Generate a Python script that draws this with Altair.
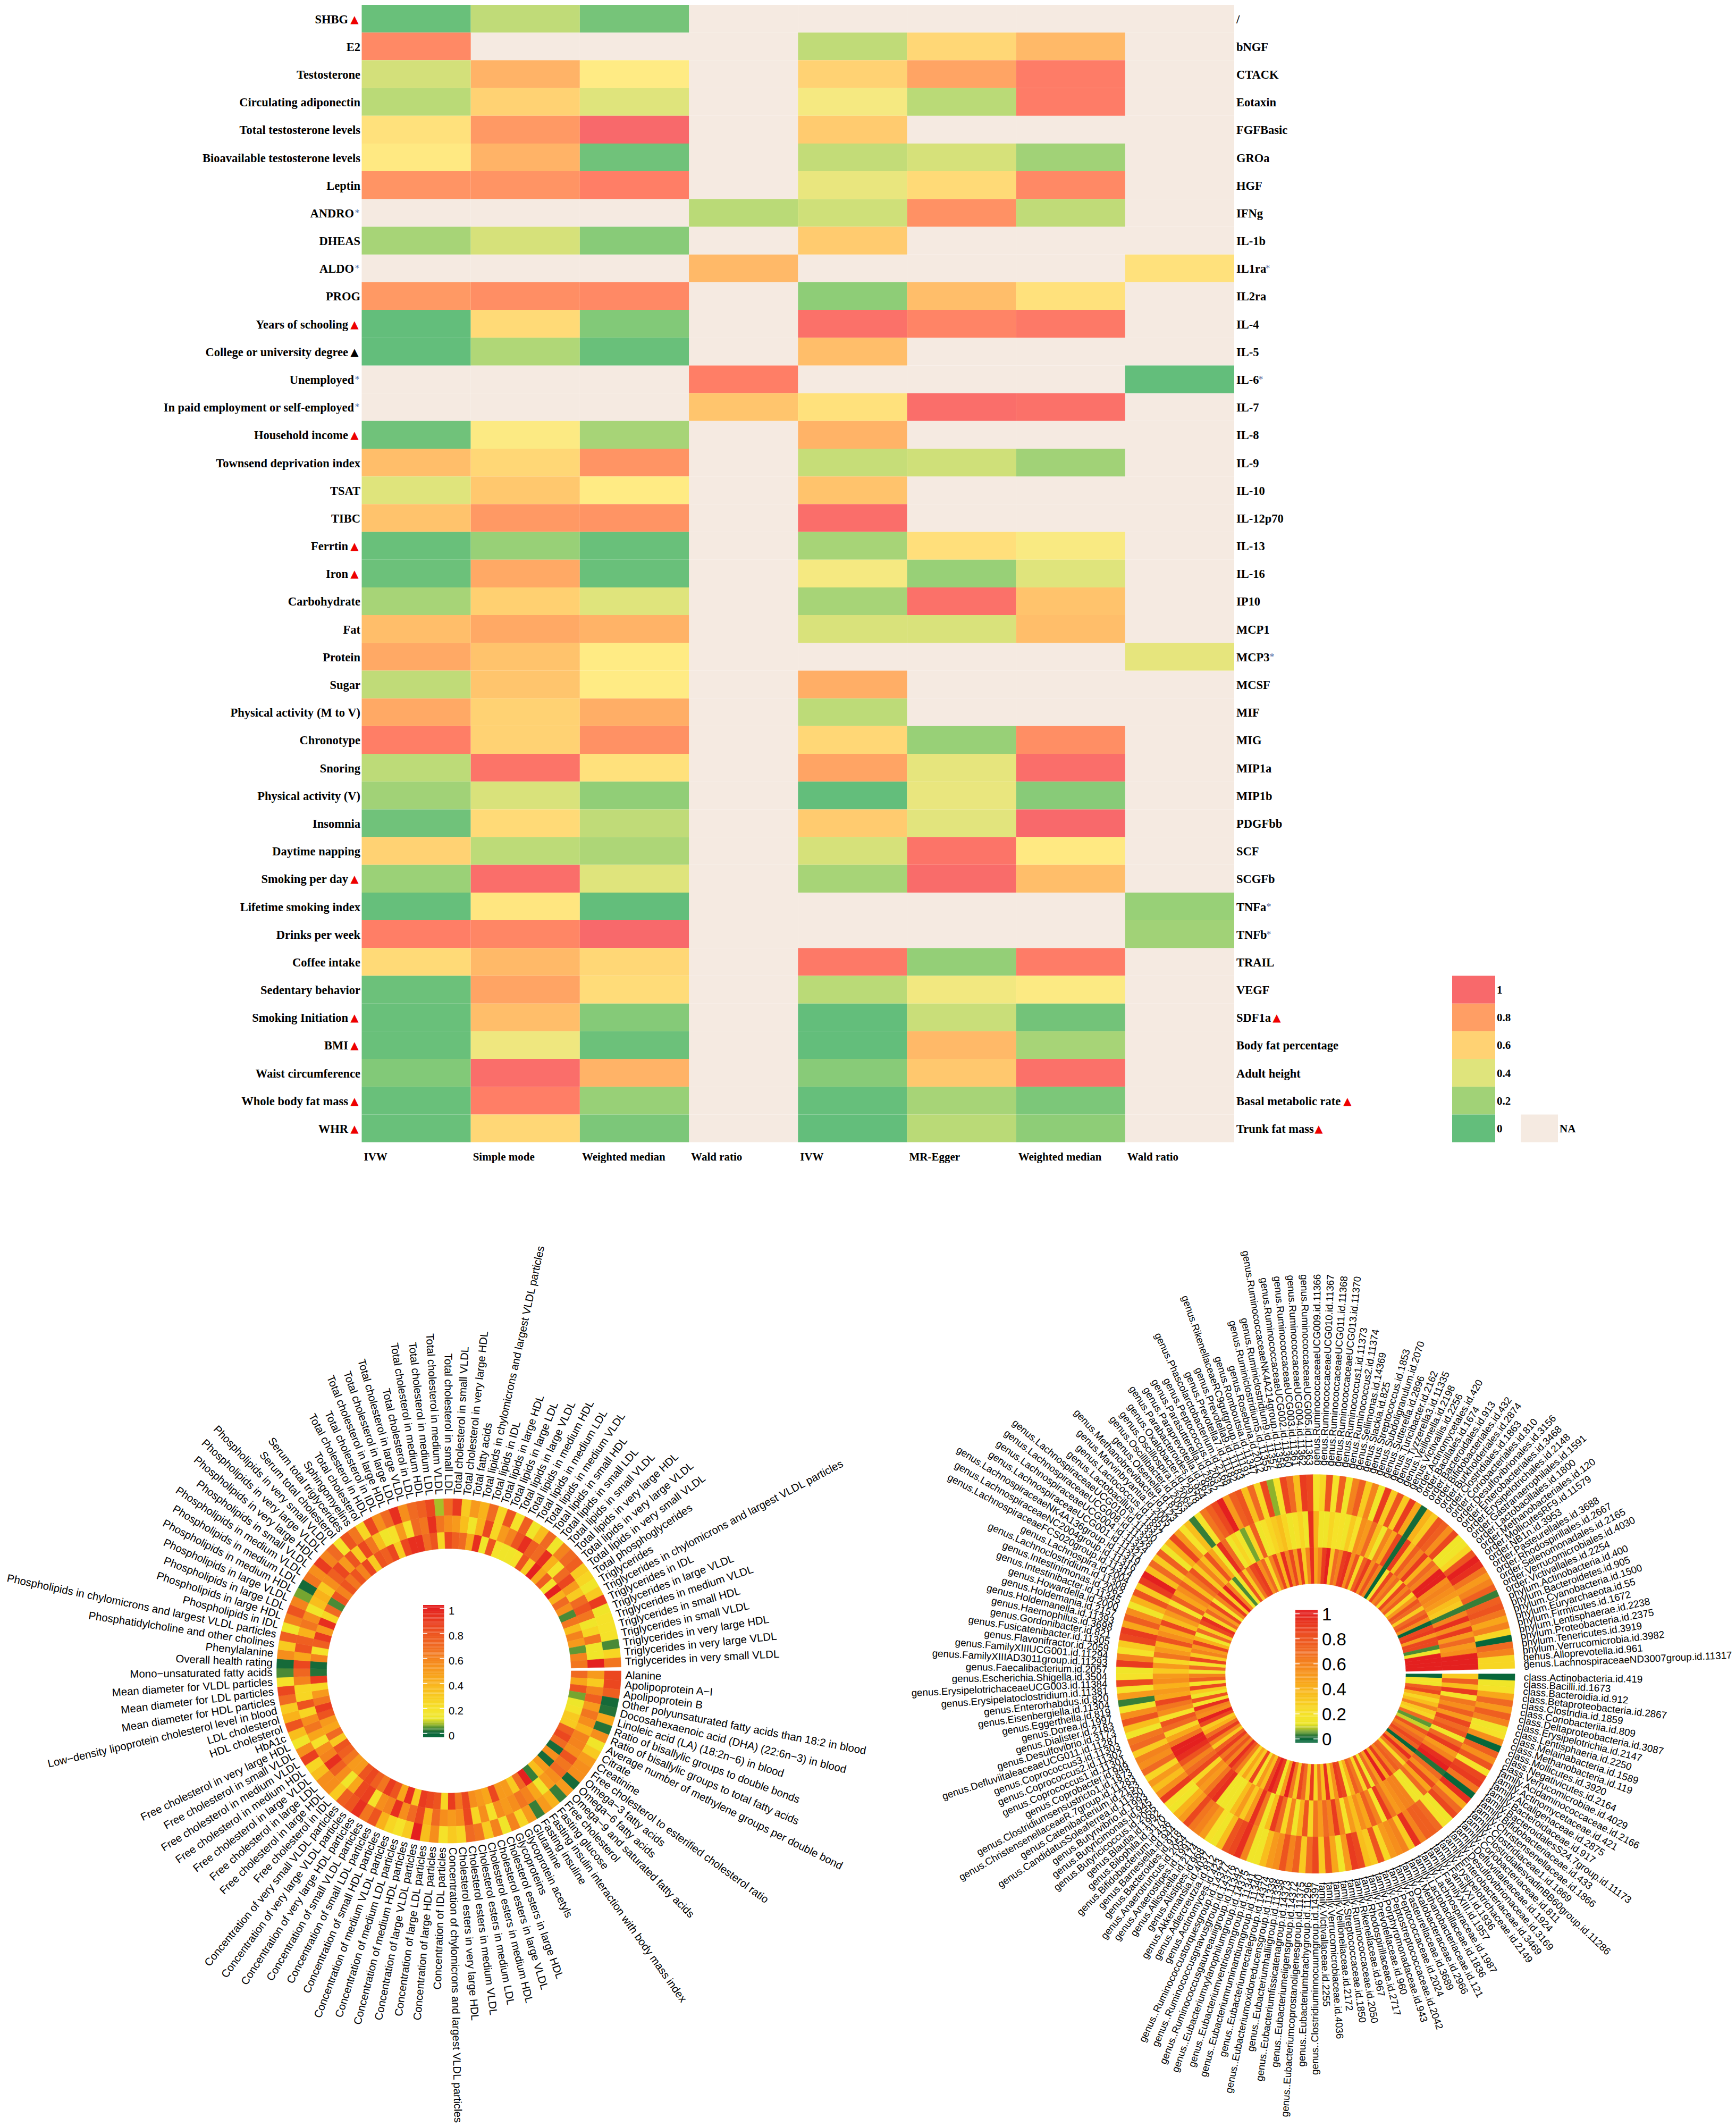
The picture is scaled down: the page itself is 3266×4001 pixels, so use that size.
import numpy as np
import pandas as pd
import altair as alt

N = None
EXPOSURES = ["SHBG","E2","Testosterone","Circulating adiponectin","Total testosterone levels","Bioavailable testosterone levels","Leptin","ANDRO","DHEAS","ALDO","PROG","Years of schooling","College or university degree","Unemployed","In paid employment or self-employed","Household income","Townsend deprivation index","TSAT","TIBC","Ferrtin","Iron","Carbohydrate","Fat","Protein","Sugar","Physical activity (M to V)","Chronotype","Snoring","Physical activity (V)","Insomnia","Daytime napping","Smoking per day","Lifetime smoking index","Drinks per week","Coffee intake","Sedentary behavior","Smoking Initiation","BMI","Waist circumference","Whole body fat mass","WHR"]
OUTCOMES = ["/","bNGF","CTACK","Eotaxin","FGFBasic","GROa","HGF","IFNg","IL-1b","IL1ra","IL2ra","IL-4","IL-5","IL-6","IL-7","IL-8","IL-9","IL-10","IL-12p70","IL-13","IL-16","IP10","MCP1","MCP3","MCSF","MIF","MIG","MIP1a","MIP1b","PDGFbb","SCF","SCGFb","TNFa","TNFb","TRAIL","VEGF","SDF1a","Body fat percentage","Adult height","Basal metabolic rate","Trunk fat mass"]
METHODS = ["IVW","Simple mode","Weighted median","Wald ratio","IVW","MR-Egger","Weighted median","Wald ratio"]
RED_TRI_LEFT = ["SHBG","Years of schooling","Household income","Ferrtin","Iron","Smoking per day","Smoking Initiation","BMI","Whole body fat mass","WHR"]
BLACK_TRI_LEFT = ["College or university degree"]
STAR_LEFT = ["ANDRO","ALDO","Unemployed","In paid employment or self-employed"]

C0 = [.02,.88,.36,.28,.54,.51,.84,N,.22,N,.82,0,0,N,N,.04,.68,.4,.66,.02,.03,.22,.68,.76,.3,.76,.92,.29,.2,.04,.6,.18,.01,.92,.57,.03,.02,.02,.1,.02,.02]
C1 = [.3,N,.72,.6,.82,.72,.84,N,.37,N,.86,.57,.25,N,N,.49,.58,.64,.82,.17,.76,.61,.76,.66,.65,.6,.6,.96,.38,.57,.29,.98,.52,.89,.7,.78,.68,.45,.98,.92,.58]
C2 = [.06,N,.5,.4,1,.04,.92,N,.12,N,.88,.1,.02,N,N,.22,.84,.5,.84,.02,.02,.4,.72,.5,.5,.74,.85,.54,.15,.3,.24,.4,0,1,.58,.56,.11,.03,.72,.17,.08]
C3 = [N,N,N,N,N,N,N,.28,N,.7,N,N,N,.92,.65,N,N,N,N,N,N,N,N,N,N,N,N,N,N,N,N,N,N,N,N,N,N,N,N,N,N]
C4 = [N,.3,.6,.47,.63,.31,.43,.35,.63,N,.14,.97,.68,N,.54,.72,.32,.66,.98,.22,.47,.22,.38,N,.74,.29,.58,.78,0,.63,.37,.22,N,N,.94,.28,0,0,.12,.01,0]
C5 = [N,.58,.78,.28,N,.37,.57,.85,N,N,.68,.9,N,N,.98,N,.35,N,N,.55,.17,.97,.38,N,N,N,.17,.42,.43,.41,.96,.99,N,N,.16,.46,.33,.7,.64,.22,.28]
C6 = [N,.7,.93,.93,N,.2,.88,.3,N,N,.54,.94,N,N,.97,N,.2,N,N,.48,.4,.66,.68,N,N,N,.86,.98,.12,1,.51,.68,N,N,.93,.49,.05,.22,.97,.08,.14]
C7 = [N,N,N,N,N,N,N,N,N,.54,N,N,N,0,N,N,N,N,N,N,N,N,N,.42,N,N,N,N,N,N,N,N,.17,.2,N,N,N,N,N,N,N]

METAB = ["Alanine","Apolipoprotein A\u2212I","Apolipoprotein B","Other polyunsaturated fatty acids than 18:2 in blood","Docosahexaenoic acid (DHA) (22:6n\u22123) in blood","Linoleic acid (LA) (18:2n\u22126) in blood","Ratio of bisallylic groups to double bonds","Ratio of bisallylic groups to total fatty acids","Average number of methylene groups per double bond","Citrate","Creatinine","Free cholesterol to esterified cholesterol ratio","Omega\u22123 fatty acids","Omega\u22126 fatty acids","Omega\u22129 and saturated fatty acids","Free cholesterol","Fasting glucose","Fasting insulin interaction with body mass index","Fasting insuline","Glutamine","Glycoprotein acetyls","Glycoproteins","Cholesterol esters in large HDL","Cholesterol esters in large VLDL","Cholesterol esters in medium HDL","Cholesterol esters in medium LDL","Cholesterol esters in medium VLDL","Cholesterol esters in very large HDL","Concentration of chylomicrons and largest VLDL particles","Concentration of IDL particles","Concentration of large HDL particles","Concentration of large LDL particles","Concentration of large VLDL particles","Concentration of medium HDL particles","Concentration of medium LDL particles","Concentration of medium VLDL particles","Concentration of small HDL particles","Concentration of small LDL particles","Concentration of small VLDL particles","Concentration of very large HDL particles","Concentration of very large VLDL particles","Concentration of very small VLDL particles","Free cholesterol in IDL","Free cholesterol in large HDL","Free cholesterol in large LDL","Free cholesterol in large VLDL","Free cholesterol in medium HDL","Free cholesterol in medium VLDL","Free cholesterol in small VLDL","Free cholesterol in very large HDL","HbA1c","HDL cholesterol","LDL cholesterol","Low\u2212density lipoprotein cholesterol level in blood","Mean diameter for HDL particles","Mean diameter for LDL particles","Mean diameter for VLDL particles","Mono\u2212unsaturated fatty acids","Overall health rating","Phenylalanine","Phosphatidylcholine and other cholines","Phospholipids in chylomicrons and largest VLDL particles","Phospholipids in IDL","Phospholipids in large HDL","Phospholipids in large LDL","Phospholipids in large VLDL","Phospholipids in medium HDL","Phospholipids in medium LDL","Phospholipids in medium VLDL","Phospholipids in small VLDL","Phospholipids in very large HDL","Phospholipids in very large VLDL","Phospholipids in very small VLDL","Serum total cholesterol","Serum total triglycerides","Sphingomyelins","Total cholesterol","Total cholesterol in HDL","Total cholesterol in IDL","Total cholesterol in large HDL","Total cholesterol in large LDL","Total cholesterol in large VLDL","Total cholesterol in LDL","Total cholesterol in medium HDL","Total cholesterol in medium LDL","Total cholesterol in medium VLDL","Total cholesterol in small LDL","Total cholesterol in small VLDL","Total cholesterol in very large HDL","Total fatty acids","Total lipids in chylomicrons and largest VLDL particles","Total lipids in IDL","Total lipids in large HDL","Total lipids in large LDL","Total lipids in large VLDL","Total lipids in medium HDL","Total lipids in medium LDL","Total lipids in medium VLDL","Total lipids in small HDL","Total lipids in small LDL","Total lipids in small VLDL","Total lipids in very large HDL","Total lipids in very large VLDL","Total lipids in very small VLDL","Total phosphoglycerides","Triglycerides","Triglycerides in chylomicrons and largest VLDL particles","Triglycerides in IDL","Triglycerides in large VLDL","Triglycerides in medium VLDL","Triglycerides in small HDL","Triglycerides in small VLDL","Triglycerides in very large HDL","Triglycerides in very large VLDL","Triglycerides in very small VLDL"]

M_OUT = [85,85,75,1,2,45,2,55,15,30,
50,55,55,1,50,3,40,50,3,50,
25,60,15,60,30,65,70,25,30,20,
55,35,100,30,20,25,40,80,65,95,
80,75,30,55,55,35,25,88,55,15,
35,80,40,30,70,85,20,4,1,55,
30,75,15,60,80,60,6,1,65,55,
90,60,70,20,80,65,25,85,55,70,
95,55,70,75,85,8,70,90,30,50,
40,70,25,80,20,75,15,35,70,15,
60,70,75,30,25,15,30,90,15,20,
20,20,4,25,65]
M_MID = [50,30,60,75,50,65,55,40,60,60,
55,80,65,70,55,50,15,45,60,65,
55,50,55,20,55,25,85,55,50,55,
70,40,85,70,55,95,60,55,20,88,
85,45,15,55,75,95,60,55,20,45,
65,55,25,80,25,25,60,72,85,45,
80,75,40,65,55,15,35,40,30,55,
75,85,50,80,30,85,65,35,15,20,
50,20,70,65,95,65,55,50,35,15,
40,85,25,50,60,80,95,75,70,95,
40,20,70,85,50,30,70,80,65,15,
25,65,15,15,100]
M_INN = [70,45,80,6,12,18,30,30,75,85,
70,1,55,1,50,35,3,100,70,30,
50,50,85,45,50,55,85,65,90,25,
80,85,90,30,95,45,80,90,65,75,
85,80,50,50,65,75,80,30,70,45,
50,80,90,65,50,25,90,2,1,60,
20,75,90,50,95,25,70,4,80,60,
80,65,80,60,85,30,80,75,85,30,
85,95,95,70,80,25,85,75,70,45,
95,15,80,20,15,15,20,80,30,100,
45,75,20,100,40,70,55,4,65,35,
60,50,5,60,65]

CLASSES = ["class.Actinobacteria.id.419","class.Bacilli.id.1673","class.Bacteroidia.id.912","class.Betaproteobacteria.id.2867","class.Clostridia.id.1859","class.Coriobacteriia.id.809","class.Deltaproteobacteria.id.3087","class.Erysipelotrichia.id.2147","class.Lentisphaeria.id.2250","class.Melainabacteria.id.1589","class.Methanobacteria.id.119","class.Mollicutes.id.3920","class.Negativicutes.id.2164","class.Verrucomicrobiae.id.4029"]
FAMILIES = ["family.Acidaminococcaceae.id.2166","family.Actinomycetaceae.id.421","family.Alcaligenaceae.id.2875","family.Bacteroidaceae.id.917","family.BacteroidalesS24.7group.id.11173","family.Bifidobacteriaceae.id.433","family.Christensenellaceae.id.1866","family.Clostridiaceae1.id.1869","family.ClostridialesvadinBB60group.id.11286","family.Coriobacteriaceae.id.811","family.Defluviitaleaceae.id.1924","family.Desulfovibrionaceae.id.3169","family.Enterobacteriaceae.id.3469","family.Erysipelotrichaceae.id.2149","family.FamilyXI.id.1936","family.FamilyXIII.id.1957","family.Lachnospiraceae.id.1987","family.Lactobacillaceae.id.1836","family.Methanobacteriaceae.id.121","family.Oxalobacteraceae.id.2966","family.Pasteurellaceae.id.3689","family.Peptococcaceae.id.2024","family.Peptostreptococcaceae.id.2042","family.Porphyromonadaceae.id.943","family.Prevotellaceae.id.960","family.Rhodospirillaceae.id.2717","family.Rikenellaceae.id.967","family.Ruminococcaceae.id.2050","family.Streptococcaceae.id.1850","family.Veillonellaceae.id.2172","family.Verrucomicrobiaceae.id.4036","family.Victivallaceae.id.2255"]
GROUP_GENERA = ["genus..Clostridiuminnocuumgroup.id.14397","genus..Eubacteriumbrachygroup.id.11296","genus..Eubacteriumcoprostanoligenesgroup.id.11375","genus..Eubacteriumeligensgroup.id.14372","genus..Eubacteriumfissicatenagroup.id.14373","genus..Eubacteriumhalliigroup.id.11338","genus..Eubacteriumoxidoreducensgroup.id.11339","genus..Eubacteriumrectalegroup.id.14374","genus..Eubacteriumruminantiumgroup.id.11340","genus..Eubacteriumventriosumgroup.id.11341","genus..Eubacteriumxylanophilumgroup.id.14375","genus..Ruminococcusgauvreauiigroup.id.11342","genus..Ruminococcusgnavusgroup.id.14376","genus..Ruminococcustorquesgroup.id.14377"]
GENERA = ["genus.Actinomyces.id.423","genus.Adlercreutzia.id.812","genus.Akkermansia.id.4037","genus.Alistipes.id.968","genus.Allisonella.id.2174","genus.Anaerostipes.id.1991","genus.Anaerotruncus.id.2054","genus.Bacteroides.id.918","genus.Barnesiella.id.944","genus.Bifidobacterium.id.436","genus.Bilophila.id.3170","genus.Blautia.id.1992","genus.Butyricicoccus.id.2055","genus.Butyricimonas.id.945","genus.Butyrivibrio.id.1993","genus.CandidatusSoleaferrea.id.11350","genus.Catenibacterium.id.2153","genus.ChristensenellaceaeR.7group.id.11283","genus.Clostridiumsensustricto1.id.1873","genus.Coprobacter.id.949","genus.Coprococcus1.id.11301","genus.Coprococcus2.id.11302","genus.Coprococcus3.id.11303","genus.DefluviitaleaceaeUCG011.id.11287","genus.Desulfovibrio.id.3173","genus.Dialister.id.2183","genus.Dorea.id.1997","genus.Eggerthella.id.819","genus.Eisenbergiella.id.11304","genus.Enterorhabdus.id.820","genus.Erysipelatoclostridium.id.11381","genus.ErysipelotrichaceaeUCG003.id.11384","genus.Escherichia.Shigella.id.3504","genus.Faecalibacterium.id.2057","genus.FamilyXIIIAD3011group.id.11293","genus.FamilyXIIIUCG001.id.11294","genus.Flavonifractor.id.2059","genus.Fusicatenibacter.id.11305","genus.Gordonibacter.id.821","genus.Haemophilus.id.3698","genus.Holdemanella.id.11393","genus.Holdemania.id.2157","genus.Howardella.id.2000","genus.Intestinibacter.id.11345","genus.Intestinimonas.id.2062","genus.Lachnoclostridium.id.11308","genus.Lachnospira.id.2004","genus.LachnospiraceaeFCS020group.id.11314","genus.LachnospiraceaeNC2004group.id.11316","genus.LachnospiraceaeNK4A136group.id.11319","genus.LachnospiraceaeUCG001.id.11321","genus.LachnospiraceaeUCG004.id.11324","genus.LachnospiraceaeUCG008.id.11328","genus.LachnospiraceaeUCG010.id.11330","genus.Lactobacillus.id.1837","genus.Lactococcus.id.1851","genus.Marvinbryantia.id.2005","genus.Methanobrevibacter.id.123","genus.Olsenella.id.822","genus.Oscillibacter.id.2063","genus.Oscillospira.id.2064","genus.Oxalobacter.id.2978","genus.Parabacteroides.id.954","genus.Paraprevotella.id.962","genus.Parasutterella.id.2892","genus.Peptococcus.id.2037","genus.Phascolarctobacterium.id.2168","genus.Prevotella7.id.11182","genus.Prevotella9.id.11183","genus.RikenellaceaeRC9gutgroup.id.11191","genus.Romboutsia.id.11347","genus.Roseburia.id.2012","genus.Ruminiclostridium5.id.11355","genus.Ruminiclostridium9.id.11357","genus.RuminococcaceaeNK4A214group.id.11358","genus.RuminococcaceaeUCG002.id.11360","genus.RuminococcaceaeUCG003.id.11361","genus.RuminococcaceaeUCG004.id.11362","genus.RuminococcaceaeUCG005.id.11363","genus.RuminococcaceaeUCG009.id.11366","genus.RuminococcaceaeUCG010.id.11367","genus.RuminococcaceaeUCG011.id.11368","genus.RuminococcaceaeUCG013.id.11370","genus.Ruminococcus1.id.11373","genus.Ruminococcus2.id.11374","genus.Sellimonas.id.14369","genus.Slackia.id.825","genus.Streptococcus.id.1853","genus.Subdoligranulum.id.2070","genus.Sutterella.id.2896","genus.Turicibacter.id.2162","genus.Tyzzerella3.id.11335","genus.Veillonella.id.2198","genus.Victivallis.id.2256"]
ORDERS = ["order.Actinomycetales.id.420","order.Bacillales.id.1674","order.Bacteroidales.id.913","order.Bifidobacteriales.id.432","order.Burkholderiales.id.2874","order.Clostridiales.id.1863","order.Coriobacteriales.id.810","order.Desulfovibrionales.id.3156","order.Enterobacteriales.id.3468","order.Erysipelotrichales.id.2148","order.Gastranaerophilales.id.1591","order.Lactobacillales.id.1800","order.Methanobacteriales.id.120","order.MollicutesRF9.id.11579","order.NB1n.id.3953","order.Pasteurellales.id.3688","order.Rhodospirillales.id.2667","order.Selenomonadales.id.2165","order.Verrucomicrobiales.id.4030","order.Victivallales.id.2254"]
PHYLA = ["phylum.Actinobacteria.id.400","phylum.Bacteroidetes.id.905","phylum.Cyanobacteria.id.1500","phylum.Euryarchaeota.id.55","phylum.Firmicutes.id.1672","phylum.Lentisphaerae.id.2238","phylum.Proteobacteria.id.2375","phylum.Tenericutes.id.3919","phylum.Verrucomicrobia.id.3982","genus.Alloprevotella.id.961","genus.LachnospiraceaeND3007group.id.11317"]

G_OUT = [0,15,20,45,70,50,75,60,15,20,
55,0,75,55,80,20,85,90,65,0,
95,45,70,85,15,20,70,75,75,60,
95,30,60,55,50,25,80,30,35,85,
90,50,15,45,80,30,85,70,30,75,
60,80,55,50,35,15,15,60,95,85,
80,35,15,20,50,60,65,85,50,40,
15,20,90,55,35,50,25,70,55,60,
30,70,65,15,35,80,55,15,3,50,
20,85,20,15,90,60,20,30,85,90,
45,75,55,15,40,80,30,90,100,35,
70,30,75,15,40,85,50,20,35,3,
20,65,75,85,100,50,75,80,35,70,
25,85,7,20,85,70,35,90,85,20,
25,80,20,75,15,60,75,30,60,15,
90,30,80,30,90,45,1,40,30,80,
75,55,85,15,15,25,80,100,95,65,
50,60,75,3,75,80,65,45,60,25,
0,70,60,25,25]
G_MID = [30,75,35,90,20,65,55,75,50,85,
70,80,15,70,90,50,60,95,100,2,
70,55,85,45,70,15,15,60,60,55,
50,65,90,20,60,75,45,55,35,50,
20,60,90,60,70,50,65,25,80,40,
15,60,25,70,90,35,15,65,95,50,
30,50,35,15,15,15,95,90,65,50,
55,25,85,70,60,80,95,100,100,65,
45,25,70,80,20,55,65,85,45,50,
40,55,50,30,50,25,65,50,40,80,
55,45,85,35,50,70,20,75,45,55,
75,35,65,80,30,60,35,80,45,15,
95,70,15,25,15,6,25,75,15,20,
25,30,35,25,15,20,25,15,95,40,
15,15,25,20,20,15,30,20,55,50,
70,35,15,60,45,85,1,90,35,75,
60,90,40,70,60,100,100,55,60,55,
50,35,30,3,60,95,55,90,50,70,
50,55,100,100,100]
G_INN = [0,20,15,75,85,40,25,35,60,30,
25,70,5,10,80,60,70,85,75,0,
60,95,65,25,70,75,60,90,45,100,
50,70,15,80,25,65,75,40,20,85,
90,55,30,95,35,65,25,90,30,70,
85,30,65,100,50,15,90,100,85,35,
50,20,85,30,45,25,60,80,95,60,
80,65,90,75,30,60,90,70,40,30,
85,100,55,60,95,20,80,15,30,85,
20,75,60,15,70,20,85,30,60,50,
85,40,15,70,30,85,95,25,70,50,
85,20,60,90,30,100,60,15,4,15,
80,30,65,85,90,55,70,25,60,85,
40,95,60,85,50,90,30,60,95,45,
60,90,100,30,70,60,90,95,55,80,
25,75,90,55,80,60,0,20,85,60,
70,25,85,60,75,25,50,80,70,30,
70,80,55,0,85,90,50,85,85,4,
15,100,100,100,100]
MICRO = CLASSES + FAMILIES + GROUP_GENERA + GENERA + ORDERS + PHYLA
assert len(METAB) == len(M_OUT) == len(M_MID) == len(M_INN), (len(METAB), len(M_OUT), len(M_MID), len(M_INN))
assert len(MICRO) == len(G_OUT) == len(G_MID) == len(G_INN), (len(MICRO), len(G_OUT), len(G_MID), len(G_INN))

# ------- layout (page coordinates minus the 8px margin)
W, H = 3250, 3985
SERIF = "Liberation Serif"
SANS = "Liberation Sans"
HX = [672.5, 2314]
HY = [1, 2140.6]
NA_COLOR = "#F5EAE1"
heat_scale = alt.Scale(domain=[0, .5, 1], range=["#63BE7B", "#FFEB84", "#F8696B"])
ring_scale = alt.Scale(domain=[0, .015, .04, .08, .12, .2, .32, .5, .7, .88, 1],
                       range=["#07673A", "#1C6C38", "#4A8A36", "#A8BE28", "#EDE62A", "#F5E229", "#F8C51F", "#F79A1C", "#F06A22", "#EA3F1F", "#E4201F"],
                       clamp=True)

x_h = alt.Scale(domain=[0, 8], range=HX, nice=False)
y_h = alt.Scale(domain=[0, 41], range=HY, nice=False)

rows = []
for c, col in enumerate([C0, C1, C2, C3, C4, C5, C6, C7]):
    for r, v in enumerate(col):
        rows.append(dict(c0=c, c1=c + 1, r0=r, r1=r + 1, v=v))
heat = pd.DataFrame(rows)
heat_na = heat[heat.v.isna()]
heat_ok = heat[heat.v.notna()].astype({"v": float})

layers = [
    alt.Chart(heat_na).mark_rect(color=NA_COLOR).encode(
        x=alt.X("c0:Q", scale=x_h, axis=None), x2="c1:Q",
        y=alt.Y("r0:Q", scale=y_h, axis=None), y2="r1:Q"),
    alt.Chart(heat_ok).mark_rect().encode(
        x=alt.X("c0:Q", scale=x_h, axis=None), x2="c1:Q",
        y=alt.Y("r0:Q", scale=y_h, axis=None), y2="r1:Q",
        color=alt.Color("v:Q", scale=heat_scale, legend=None)),
]

def row_text(df, xpos, align, size=22.5, color="#000000", font=SERIF, weight="bold", dy=1.5):
    return alt.Chart(df).mark_text(align=align, baseline="middle", font=font, fontWeight=weight,
                                   fontSize=size, color=color, dy=dy).encode(
        x=alt.value(xpos),
        y=alt.Y("ym:Q", scale=y_h, axis=None), text="t:N")

lab = pd.DataFrame(dict(t=EXPOSURES, ym=np.arange(41) + .5))
plain = lab[~lab.t.isin(RED_TRI_LEFT + BLACK_TRI_LEFT + STAR_LEFT)]
tri = lab[lab.t.isin(RED_TRI_LEFT + BLACK_TRI_LEFT)]
star = lab[lab.t.isin(STAR_LEFT)]
mk_tri = tri.assign(t="\u25B2")
layers += [
    row_text(plain, 670, "right"),
    row_text(tri, 647, "right"),
    row_text(star, 658, "right"),
    row_text(mk_tri[tri.t.isin(RED_TRI_LEFT).values], 659, "center", size=20, color="#EE0000", font="DejaVu Sans", weight="normal"),
    row_text(mk_tri[tri.t.isin(BLACK_TRI_LEFT).values], 659, "center", size=20, color="#000000", font="DejaVu Sans", weight="normal"),
    row_text(star.assign(t="*"), 664, "center", size=18, color="#4F6EA8", weight="normal"),
]
rlab = pd.DataFrame(dict(t=OUTCOMES, ym=np.arange(41) + .5))
layers.append(row_text(rlab, 2318, "left"))
# marks that follow a few right-hand labels: label -> x of the mark
RIGHT_TRI = {"SDF1a": 2394, "Basal metabolic rate": 2527, "Trunk fat mass": 2473}
RIGHT_STAR = {"IL1ra": 2377, "IL-6": 2364, "MCP3": 2385, "TNFa": 2379, "TNFb": 2379}
for name, xp in RIGHT_TRI.items():
    d = rlab[rlab.t == name].assign(t="\u25B2")
    layers.append(row_text(d, xp, "center", size=20, color="#EE0000", font="DejaVu Sans", weight="normal"))
for name, xp in RIGHT_STAR.items():
    d = rlab[rlab.t == name].assign(t="*")
    layers.append(row_text(d, xp, "center", size=18, color="#4F6EA8", weight="normal"))

# method labels
meth = pd.DataFrame(dict(t=METHODS, c=np.arange(8)))
layers.append(alt.Chart(meth).mark_text(align="left", baseline="middle", font=SERIF, fontWeight="bold", fontSize=21, dx=4).encode(
    x=alt.X("c:Q", scale=x_h, axis=None), y=alt.value(2169), text="t:N"))

# discrete legend
LEG_VALUES = [1, .8, .6, .4, .2, 0]
leg = pd.DataFrame(dict(v=LEG_VALUES, r0=np.arange(35, 41), r1=np.arange(36, 42), ym=np.arange(35, 41) + .5,
                        t=["1", "0.8", "0.6", "0.4", "0.2", "0"]))
layers.append(alt.Chart(leg).mark_rect().encode(
    x=alt.value(2724), x2=alt.value(2805),
    y=alt.Y("r0:Q", scale=y_h, axis=None), y2="r1:Q",
    color=alt.Color("v:Q", scale=heat_scale, legend=None)))
layers.append(row_text(leg, 2808, "left", size=21))
nabox = pd.DataFrame(dict(r0=[40], r1=[41], ym=[40.5], t=["NA"]))
layers.append(alt.Chart(nabox).mark_rect(color=NA_COLOR).encode(
    x=alt.value(2853), x2=alt.value(2923),
    y=alt.Y("r0:Q", scale=y_h, axis=None), y2="r1:Q"))
layers.append(row_text(nabox, 2926, "left", size=21))


def ring(names, outer, mid, inner, cx, cy, rin, rout, span_deg, label_r, font_size):
    n = len(names)
    start = np.pi / 2
    th = alt.Scale(domain=[0, n], range=[start, start + np.radians(span_deg)], nice=False)
    rad = alt.Scale(type="linear", domain=[0, 3], range=[rin, rout], nice=False, zero=False)
    recs = []
    for k, col in enumerate([inner, mid, outer]):
        for i, v in enumerate(col):
            recs.append(dict(a0=i, a1=i + 1, r0=k, r1=k + 1, v=v / 100))
    arc = alt.Chart(pd.DataFrame(recs)).mark_arc(strokeWidth=0.6).encode(
        x=alt.value(cx), y=alt.value(cy),
        theta=alt.Theta("a0:Q", scale=th, stack=False), theta2="a1:Q",
        radius=alt.Radius("r0:Q", scale=rad), radius2="r1:Q",
        fill=alt.Fill("v:Q", scale=ring_scale, legend=None),
        stroke=alt.Stroke("v:Q", scale=ring_scale, legend=None))
    out = [arc]
    mids = np.arange(n) + .5
    deg = 90 + mids / n * span_deg
    deg_mod = deg % 360
    right = deg_mod < 180
    rot = np.where(right, deg_mod - 90, deg_mod + 90) % 360
    tx = pd.DataFrame(dict(m=mids, t=names, rot=rot, right=right))
    for side, al in [(True, "left"), (False, "right")]:
        out.append(alt.Chart(tx[tx.right == side]).mark_text(align=al, baseline="middle", font=SANS, fontSize=font_size, color="#000000").encode(
            x=alt.value(cx), y=alt.value(cy),
            theta=alt.Theta("m:Q", scale=th, stack=False),
            radius=alt.value(label_r),
            angle=alt.Angle("rot:Q", scale=None),
            text="t:N"))
    return out


def colorbar(x0, x1, y_at0, y_at1, lab_x, lab_size, tick_len, lab_dy):
    lev = np.arange(-3, 103) / 100
    d = pd.DataFrame(dict(a=lev, b=lev + .01, v=np.clip(lev + .005, 0, 1)))
    ys = alt.Scale(domain=[0, 1], range=[y_at0, y_at1], nice=False, zero=False)
    bar = alt.Chart(d).mark_rect().encode(
        x=alt.value(x0), x2=alt.value(x1),
        y=alt.Y("a:Q", scale=ys, axis=None), y2="b:Q",
        color=alt.Color("v:Q", scale=ring_scale, legend=None))
    t = pd.DataFrame(dict(v=[0, .2, .4, .6, .8, 1], t=["0", "0.2", "0.4", "0.6", "0.8", "1"]))
    out = [bar]
    for a, b in [(x0, x0 + tick_len), (x1 - tick_len, x1)]:
        out.append(alt.Chart(t).mark_rule(color="#FFFFFF", strokeWidth=1.5).encode(
            x=alt.value(a), x2=alt.value(b), y=alt.Y("v:Q", scale=ys, axis=None)))
    out.append(alt.Chart(t).mark_text(align="left", baseline="middle", font=SANS, fontSize=lab_size, dy=lab_dy, color="#000000").encode(
        x=alt.value(lab_x), y=alt.Y("v:Q", scale=ys, axis=None), text="t:N"))
    return out


layers += ring(METAB, M_OUT, M_MID, M_INN, 836.5, 3135, 230, 324, 358.7, 332, 20.4)
layers += ring(MICRO, G_OUT, G_MID, G_INN, 2467, 3140.7, 170, 375, 358.4, 392, 18.8)
layers += colorbar(788, 827.5, 3252.7, 3018, 836, 20, 8, 5)
layers += colorbar(2429, 2471, 3263, 3027.5, 2479, 33, 8, 2)

chart = alt.layer(*layers).resolve_scale(
    x="independent", y="independent", color="independent", fill="independent", stroke="independent",
    theta="independent", radius="independent", angle="independent"
).properties(width=W, height=H, padding=0, autosize=alt.AutoSizeParams(type="none"), background="#FFFFFF"
).configure_view(stroke=None)

chart.save("out.html", embed_options={"renderer": "svg", "actions": False})
